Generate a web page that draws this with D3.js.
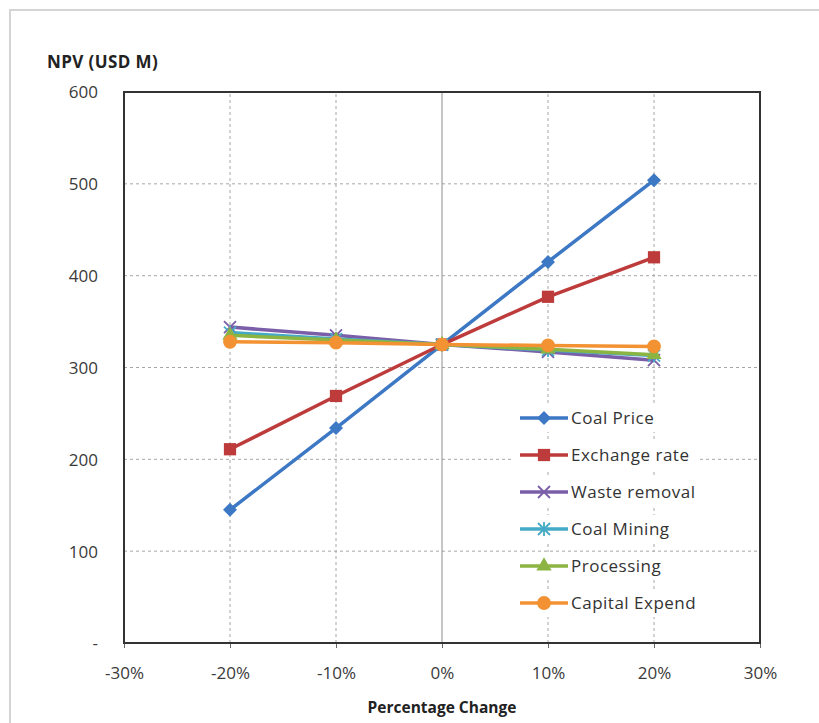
<meta charset="utf-8">
<script src="https://d3js.org/d3.v7.min.js"></script>
<body style="margin:0;background:#fff">
<div id="chart"></div>
<script>
var changes = [-0.2, -0.1, 0, 0.1, 0.2]
var seriesNames = ["Coal Price", "Exchange rate", "Waste removal", "Coal Mining", "Processing", "Capital Expend"]
var coalPrice = [145, 234, 325, 415, 504]
var exchangeRate = [211, 269, 325, 377, 420]
var wasteRemoval = [344, 335, 325, 317, 308]
var coalMining = [338, 331, 325, 319, 313]
var processing = [335, 330, 325, 320, 314]
var capitalExpend = [328, 327, 325, 324, 323]
var xTicks = [-0.3, -0.2, -0.1, 0, 0.1, 0.2, 0.3]
var yTicks = [0, 100, 200, 300, 400, 500, 600]

var colors = ["#3d78c4", "#be3b3b", "#7b5ea8", "#45aac6", "#8cb443", "#f39232"]
var symbols = ["diamond", "square", "x", "star", "triangle", "circle"]
var allValues = [coalPrice, exchangeRate, wasteRemoval, coalMining, processing, capitalExpend]

var width = 819, height = 723
var margin = {left: 124, right: 59, top: 92, bottom: 80}
var font = "'Open Sans', sans-serif"

var svg = d3.select("#chart").append("svg")
  .attr("width", width)
  .attr("height", height)
  .style("font-family", font)

svg.append("rect")
  .attr("x", 10).attr("y", 10)
  .attr("width", width).attr("height", height)
  .attr("fill", "#fff")
  .attr("stroke", "#d4d4d4")
  .attr("stroke-width", 2)

var x = d3.scaleLinear().domain([-0.3, 0.3]).range([margin.left, width - margin.right])
var y = d3.scaleLinear().domain([0, 600]).range([height - margin.bottom, margin.top])

// grid
svg.append("g").selectAll("line")
  .data(yTicks.filter(d => d > 0 && d < 600))
  .enter().append("line")
    .attr("x1", x(-0.3)).attr("x2", x(0.3))
    .attr("y1", d => y(d)).attr("y2", d => y(d))
    .attr("stroke", "#a6a6a6")
    .attr("stroke-dasharray", "3,3")
svg.append("g").selectAll("line")
  .data(xTicks.filter(d => Math.abs(d) < 0.25))
  .enter().append("line")
    .attr("x1", d => x(d)).attr("x2", d => x(d))
    .attr("y1", y(0)).attr("y2", y(600))
    .attr("stroke", d => d == 0 ? "#8c8c8c" : "#a6a6a6")
    .attr("stroke-dasharray", d => d == 0 ? null : "3,3")

// axes
var pct = d => Math.round(d * 100) + "%"
var xAxis = d3.axisBottom(x).tickValues(xTicks).tickFormat(pct).tickSize(5)
var yAxis = d3.axisLeft(y).tickValues(yTicks).tickFormat(d => d == 0 ? "-" : d).tickSize(0).tickPadding(26)

svg.append("g")
  .attr("transform", "translate(0," + y(0) + ")")
  .call(xAxis)
  .call(g => g.select(".domain").remove())
  .call(g => g.selectAll("line").attr("stroke", "#666"))
  .call(g => g.selectAll("text").attr("dy", 0).attr("y", 36)
    .style("font-family", font).style("font-size", "17px").attr("fill", "#3a3a3a"))

svg.append("g")
  .attr("transform", "translate(" + x(-0.3) + ",0)")
  .call(yAxis)
  .call(g => g.select(".domain").remove())
  .call(g => g.selectAll("text").attr("dy", "0.35em")
    .style("font-family", font).style("font-size", "17px").attr("fill", "#3a3a3a"))

svg.append("rect")
  .attr("x", x(-0.3)).attr("y", y(600))
  .attr("width", x(0.3) - x(-0.3)).attr("height", y(0) - y(600))
  .attr("fill", "none")
  .attr("stroke", "#333")
  .attr("stroke-width", 2)

svg.append("text")
  .attr("x", 47).attr("y", 68)
  .attr("font-weight", "bold").attr("font-size", "17px").attr("fill", "#222")
  .attr("letter-spacing", "0.4")
  .text("NPV (USD M)")

svg.append("text")
  .attr("x", x(0)).attr("y", 713)
  .attr("text-anchor", "middle")
  .attr("font-weight", "bold").attr("font-size", "15.5px").attr("fill", "#222")
  .text("Percentage Change")

function marker(g, type, color) {
  if (type == "x") {
    g.append("path").attr("d", "M-6,-6L6,6M-6,6L6,-6").attr("stroke", color).attr("stroke-width", 1.8).attr("fill", "none")
  } else if (type == "star") {
    g.append("path").attr("d", "M-6,-6L6,6M-6,6L6,-6M0,-7L0,7").attr("stroke", color).attr("stroke-width", 1.8).attr("fill", "none")
  } else if (type == "diamond") {
    g.append("path").attr("d", "M0,-7L7,0L0,7L-7,0Z").attr("fill", color)
  } else {
    var sym = {square: d3.symbolSquare, triangle: d3.symbolTriangle, circle: d3.symbolCircle}[type]
    var size = {square: 150, triangle: 100, circle: 150}[type]
    g.append("path").attr("d", d3.symbol().type(sym).size(size)).attr("fill", color)
  }
}

var line = d3.line().x((d, i) => x(changes[i])).y(d => y(d))

allValues.forEach(function(vals, k) {
  var g = svg.append("g")
  g.append("path")
    .attr("d", line(vals))
    .attr("fill", "none")
    .attr("stroke", colors[k])
    .attr("stroke-width", 3.5)
  vals.forEach(function(v, i) {
    var m = g.append("g").attr("transform", "translate(" + x(changes[i]) + "," + y(v) + ")")
    marker(m, symbols[k], colors[k])
  })
})

// legend
var legend = svg.append("g").attr("transform", "translate(520,418)")
seriesNames.forEach(function(name, k) {
  var row = legend.append("g").attr("transform", "translate(0," + (k * 37) + ")")
  row.append("rect").attr("x", -6).attr("y", -14).attr("width", 186).attr("height", 28).attr("fill", "#fff")
  row.append("line").attr("x1", 0).attr("x2", 48).attr("stroke", colors[k]).attr("stroke-width", 3.5)
  var m = row.append("g").attr("transform", "translate(24,0)")
  marker(m, symbols[k], colors[k])
  row.append("text")
    .attr("x", 51).attr("dy", "0.35em")
    .attr("font-size", "17px").attr("fill", "#333")
    .attr("letter-spacing", "0.5")
    .text(name)
})
</script>
</body>
